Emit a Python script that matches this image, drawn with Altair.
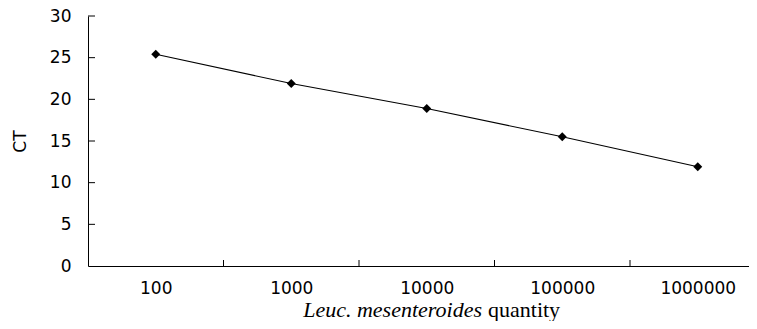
import altair as alt
import pandas as pd

# ---- data ----
quantities = ["100", "1000", "10000", "100000", "1000000"]
ct_values = [25.4, 21.9, 18.9, 15.5, 11.9]
y_ticks = [0, 5, 10, 15, 20, 25, 30]
x_title_italic = "Leuc. mesenteroides"
x_title_regular = "quantity"
y_title = "CT"

positions = list(range(1, len(quantities) + 1))
df = pd.DataFrame({"pos": positions, "quantity": quantities, "ct": ct_values})
x_bounds = pd.DataFrame({"pos": [p + 0.5 for p in positions[:-1]]})
y_tick_df = pd.DataFrame({"ct": y_ticks[1:]})

W, H = 661, 250
BAND = 135.5
FONT = "DejaVu Sans"

xscale = alt.Scale(domain=[0.5, 0.5 + W / BAND], nice=False, zero=False)
yscale = alt.Scale(domain=[y_ticks[0], y_ticks[-1]], nice=False, zero=True)

label_expr = "[" + ",".join("'" + q + "'" for q in quantities) + "][datum.value - 1]"

x_axis = alt.Axis(
    values=positions, labelExpr=label_expr, ticks=False, tickSize=0, grid=False,
    labelPadding=14, labelFont=FONT, labelFontSize=17, labelColor="black",
    labelOverlap=False, labelFlush=False, domainColor="black", domainWidth=1, title=None,
)
y_axis = alt.Axis(
    values=y_ticks, ticks=False, tickSize=0, grid=False, labelPadding=17,
    labelFont=FONT, labelFontSize=17, labelColor="black", domainColor="black",
    domainWidth=1, title=y_title, titleFont=FONT, titleFontSize=17,
    titleFontWeight="normal", titleColor="black", titleAngle=-90,
    titleX=-68, titleY=125, titleAlign="center", titleBaseline="middle",
)

X = alt.X("pos:Q", scale=xscale, axis=x_axis)
Y = alt.Y("ct:Q", scale=yscale, axis=y_axis)

base = alt.Chart(df)
line = base.mark_line(color="black", strokeWidth=1.1).encode(x=X, y=Y)
points = base.mark_point(shape="diamond", filled=True, size=80, color="black", opacity=1).encode(x=X, y=Y)

x_ticks = alt.Chart(x_bounds).mark_rule(color="black", strokeWidth=1).encode(
    x=X,
    y=alt.value(H),
    y2=alt.value(H - 6),
)
y_tick_marks = alt.Chart(y_tick_df).mark_rule(color="black", strokeWidth=1).encode(
    y=Y,
    x=alt.value(0),
    x2=alt.value(7),
)

title_italic = alt.Chart(pd.DataFrame({"t": [x_title_italic]})).mark_text(
    font="Liberation Serif", fontSize=22, fontStyle="italic", align="right",
    baseline="alphabetic", color="black",
).encode(text="t:N", x=alt.value(394), y=alt.value(300.5))

title_regular = alt.Chart(pd.DataFrame({"t": [x_title_regular]})).mark_text(
    font="Liberation Serif", fontSize=22, align="left",
    baseline="alphabetic", color="black",
).encode(text="t:N", x=alt.value(400), y=alt.value(300.5))

chart = alt.layer(line, points, x_ticks, y_tick_marks, title_italic, title_regular).properties(
    width=W, height=H,
    autosize=alt.AutoSizeParams(type="none"),
    padding={"left": 80, "top": 8, "right": 0, "bottom": 55},
    background="white",
).configure_view(stroke=None)

chart.save("out.html", embed_options={"renderer": "svg", "actions": False})
